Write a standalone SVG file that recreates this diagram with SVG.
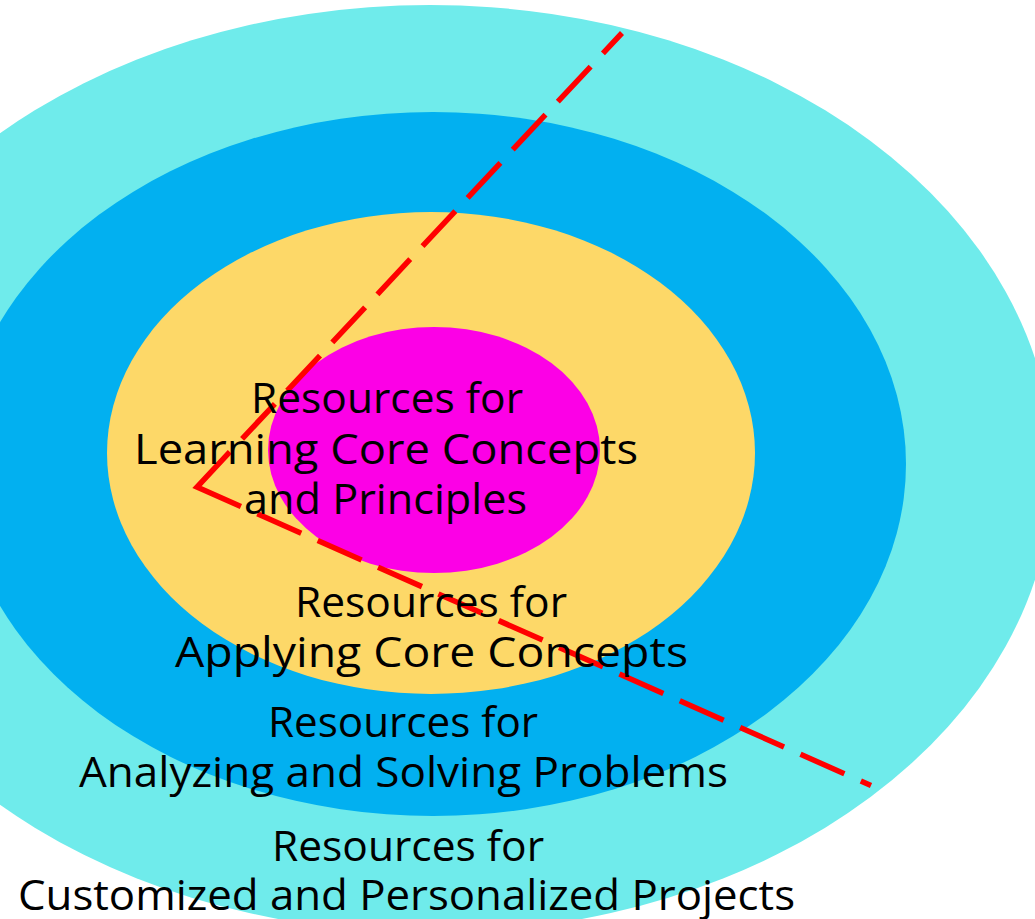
<svg xmlns="http://www.w3.org/2000/svg" width="1035" height="919" viewBox="0 0 1035 919">
  <style>
    .label { font-family: "Open Sans", "DejaVu Sans", sans-serif; font-size: 42px; fill: #000000; }
    .ring-outer { fill: #6FEBEB; }
    .ring-mid { fill: #02B0F0; }
    .ring-inner { fill: #FDD868; }
    .ring-core { fill: #FC00E6; }
    .cut { fill: none; stroke: #FF0000; stroke-width: 5.5; stroke-linejoin: miter; stroke-linecap: butt; }
  </style>
  <rect x="0" y="0" width="1035" height="919" fill="#FFFFFF"/>

  <!-- outermost ring: customized and personalized projects -->
  <g id="ring-projects">
    <ellipse class="ring-outer" cx="430" cy="469" rx="623" ry="464"/>
  </g>

  <!-- analyzing and solving problems -->
  <g id="ring-problems">
    <ellipse class="ring-mid" cx="433" cy="464" rx="473" ry="352"/>
  </g>

  <!-- applying core concepts -->
  <g id="ring-applying">
    <ellipse class="ring-inner" cx="431" cy="453" rx="324" ry="241"/>
  </g>

  <!-- core: learning concepts and principles -->
  <g id="ring-core">
    <ellipse class="ring-core" cx="434" cy="450" rx="166" ry="123"/>
  </g>

  <!-- dashed cut-away wedge; dashes are laid out from the corner outwards along each leg -->
  <g id="connectors">
    <polyline class="cut" points="622,33 197,487 871,785.5"
      stroke-dasharray="27.9 18 48 18 48 18 48 18 48 18 48 18 48 18 48 18 48 18 96 18 48 18 48 18 48 18 48 18 48 18 48 18 48 18 48 18 48 18 48 18 30 30"/>
  </g>

  <!-- ring labels -->
  <g id="label-core">
    <text class="label" x="251" y="413" textLength="272" lengthAdjust="spacingAndGlyphs">Resources for</text>
    <text class="label" x="134" y="464" textLength="504" lengthAdjust="spacingAndGlyphs">Learning Core Concepts</text>
    <text class="label" x="244" y="514" textLength="283" lengthAdjust="spacingAndGlyphs">and Principles</text>
  </g>
  <g id="label-applying">
    <text class="label" x="295" y="617" textLength="272" lengthAdjust="spacingAndGlyphs">Resources for</text>
    <text class="label" x="175" y="667" textLength="513" lengthAdjust="spacingAndGlyphs">Applying Core Concepts</text>
  </g>
  <g id="label-problems">
    <text class="label" x="268" y="737" textLength="270" lengthAdjust="spacingAndGlyphs">Resources for</text>
    <text class="label" x="79" y="787" textLength="649" lengthAdjust="spacingAndGlyphs">Analyzing and Solving Problems</text>
  </g>
  <g id="label-projects">
    <text class="label" x="272" y="861" textLength="272" lengthAdjust="spacingAndGlyphs">Resources for</text>
    <text class="label" x="18" y="910" textLength="777" lengthAdjust="spacingAndGlyphs">Customized and Personalized Projects</text>
  </g>
</svg>
